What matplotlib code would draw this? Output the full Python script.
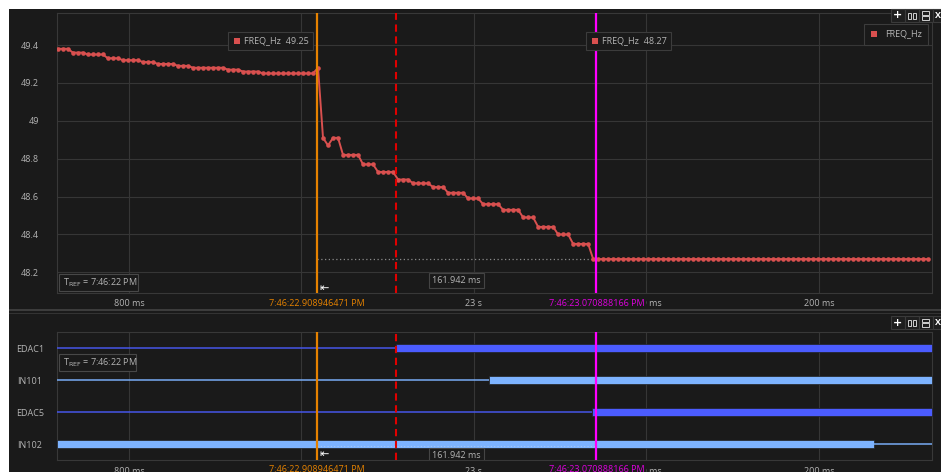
import numpy as np
import matplotlib
matplotlib.use('Agg')
import matplotlib.pyplot as plt
from matplotlib.patches import Rectangle

# ---- data ----
# frequency samples: seconds after 7:46:00 PM, held levels with sample counts
t_first = 22.7588
dt = 0.0029
freq_levels = [49.38, 49.36, 49.35, 49.33, 49.32, 49.31, 49.30, 49.29, 49.28, 49.27, 49.26, 49.25,
               49.28, 48.91, 48.87, 48.91, 48.82, 48.77, 48.73, 48.69, 48.67, 48.65, 48.62, 48.59,
               48.56, 48.53, 48.49, 48.44, 48.40, 48.35, 48.27]
freq_counts = [3, 3, 4, 3, 4, 3, 4, 3, 7, 3, 4, 11,
               1, 1, 1, 2, 4, 3, 4, 3, 4, 3, 4, 3, 4, 4, 3, 4, 3, 4, 68]

cursor_a = 22.908946471
cursor_b = 23.070888166
trigger = 22.9548
x_range = (22.7583, 23.2655)

x_ticks = [22.8, 22.9, 23.0, 23.1, 23.2]
# the 900 ms label sits fully under the orange cursor label
x_labels = ['800 ms', '', '23 s', '100 ms', '200 ms']
y_ticks = [48.2, 48.4, 48.6, 48.8, 49.0, 49.2, 49.4]
y_labels = ['48.2', '48.4', '48.6', '48.8', '49', '49.2', '49.4']

sig_names = ['EDAC1', 'IN101', 'EDAC5', 'IN102']
sig_start = [0, 0, 0, 1]
sig_edge = [22.9548, 23.0089, 23.0684, 23.2321]
sig_colors = ['#4b5cff', '#7db3ff', '#4b5cff', '#7db3ff']
sig_thin = ['#4656e8', '#78acf5', '#4656e8', '#78acf5']

freq = np.repeat(freq_levels, freq_counts)
t = t_first + dt * np.arange(len(freq))

# ---- style ----
W, H = 941, 472
BG = '#1a1a1a'
GRID = '#363636'
TXT = '#b4b4b4'
ORANGE = '#e68200'
MAGENTA = '#ff00ff'
RED = '#d9504f'
plt.rcParams['font.family'] = ['Open Sans', 'DejaVu Sans']
FS = 6.5

fig = plt.figure(figsize=(W / 100, H / 100), dpi=100, facecolor='white')


def fx(x):
    return x / W


def fy(y):
    return 1 - y / H


def fig_rect(x0, y0, x1, y1, **kw):
    fig.patches.append(Rectangle((fx(x0), fy(y1)), (x1 - x0) / W, (y1 - y0) / H,
                                 transform=fig.transFigure, **kw))


# dark window background
fig_rect(9, 9, W, H, facecolor=BG, edgecolor='none', zorder=-10)
# panel separator
fig_rect(9, 308.5, W, 311, facecolor='#3c3c3c', edgecolor='none')
fig_rect(9, 312.5, W, 313.5, facecolor='#333333', edgecolor='none')

ax1 = fig.add_axes([fx(57), fy(293), 875 / W, 280 / H])
ax2 = fig.add_axes([fx(57), fy(460), 875 / W, 128 / H])

for ax in (ax1, ax2):
    ax.set_facecolor(BG)
    ax.set_axisbelow(True)
    for s in ax.spines.values():
        s.set_color('#383838')
        s.set_linewidth(0.8)
    ax.set_xlim(*x_range)
    ax.set_xticks(x_ticks)
    ax.set_xticklabels(x_labels)
    ax.tick_params(length=0, colors=TXT, labelsize=FS)
    ax.grid(True, axis='x', color=GRID, lw=0.8)
    ax.axvline(cursor_a, color=ORANGE, lw=1.6, zorder=6)
    ax.axvline(cursor_b, color=MAGENTA, lw=1.6, zorder=6)
    ax.axvline(trigger, color='#e00000', lw=1.5, dashes=(3.5, 2.2), zorder=6)

# ---- top panel: frequency ----
ax1.set_ylim(48.091, 49.569)
ax1.set_yticks(y_ticks)
ax1.set_yticklabels(y_labels)
ax1.tick_params(axis='y', pad=13)
ax1.tick_params(axis='x', pad=4.5)
ax1.grid(True, axis='y', color=GRID, lw=0.8)
ax1.plot(t, freq, color=RED, lw=1.4, marker='o', ms=3.3, mew=0, zorder=4)
ax1.plot([cursor_a, cursor_b], [freq[-1], freq[-1]], color='#8a8a8a', lw=0.9,
         ls=(0, (1, 2)), zorder=3)
ax1.text((cursor_a + cursor_b) / 2, 48.157, '161.942 ms', color=TXT, fontsize=FS,
         ha='center', va='center', zorder=7,
         bbox=dict(boxstyle='square,pad=0.35', fc=BG, ec='#444444', lw=0.8))
ax1.text(cursor_a + 0.0015, 48.116, '\u21e4', color='white', fontsize=8,
         family='DejaVu Sans', ha='left', va='center', zorder=7)

# ---- bottom panel: digital channels ----
ax2.set_ylim(3.5, -0.5)
ax2.set_yticks(range(len(sig_names)))
ax2.set_yticklabels(sig_names, ha='center')
ax2.tick_params(axis='y', pad=19.5)
ax2.tick_params(axis='x', pad=5)
for i, name in enumerate(sig_names):
    pieces = [(x_range[0], sig_edge[i], sig_start[i]),
              (sig_edge[i], x_range[1], 1 - sig_start[i])]
    for a, b, state in pieces:
        if state:
            ax2.broken_barh([(a, b - a)], (i - 0.135, 0.27), facecolors=sig_colors[i],
                            edgecolors='#202020', linewidth=0.5, zorder=4)
        else:
            ax2.hlines(i, a, b, color=sig_thin[i], lw=1.1, zorder=4)
ax2.plot([cursor_a, cursor_b], [3.05, 3.05], color='#a8c8ee', lw=0.8,
         ls=(0, (1, 2)), zorder=5)
ax2.text((cursor_a + cursor_b) / 2, 3.35, '161.942 ms', color=TXT, fontsize=FS,
         ha='center', va='center', zorder=7, clip_on=True,
         bbox=dict(boxstyle='square,pad=0.35', fc=BG, ec='#444444', lw=0.8))
ax2.text(cursor_a + 0.0015, 3.3, '\u21e4', color='white', fontsize=8,
         family='DejaVu Sans', ha='left', va='center', zorder=7)

# ---- cursor time labels on the time axes ----
for ylab in (303, 469.5):
    fig.text(fx(317), fy(ylab), '7:46:22.908946471 PM', color=ORANGE, fontsize=FS,
             ha='center', va='center',
             bbox=dict(boxstyle='square,pad=0.15', fc=BG, ec='none'))
    fig.text(fx(597), fy(ylab), '7:46:23.070888166 PM', color='#e000e0', fontsize=FS,
             ha='center', va='center',
             bbox=dict(boxstyle='square,pad=0.15', fc=BG, ec='none'))

# ---- reference time boxes ----
for x0, y0, x1, y1 in [(59, 274, 138, 291), (59, 354, 136, 371)]:
    fig_rect(x0, y0, x1, y1, facecolor=BG, edgecolor='#484848', lw=0.8, zorder=8)
    fig.text(fx(x0 + 4), fy((y0 + y1) / 2), r'T$_{\mathrm{REF}}$ = 7:46:22 PM', color=TXT,
             fontsize=FS, ha='left', va='center', zorder=9)

# ---- value tooltips at the cursors ----
for x0, val in [(228, '49.25'), (586, '48.27')]:
    fig_rect(x0, 32, x0 + 85, 50, facecolor=BG, edgecolor='#3c3c3c', lw=0.8, zorder=8)
    fig_rect(x0 + 6, 38, x0 + 12, 44, facecolor=RED, edgecolor='none', zorder=9)
    fig.text(fx(x0 + 16), fy(41), 'FREQ_Hz  ' + val, color=TXT, fontsize=FS,
             ha='left', va='center', zorder=9)

# ---- legend ----
fig_rect(864, 24, 928, 45, facecolor=BG, edgecolor='#3c3c3c', lw=0.8, zorder=8)
fig_rect(871, 31, 877, 37, facecolor=RED, edgecolor='none', zorder=9)
fig.text(fx(885), fy(34), 'FREQ_Hz', color=TXT, fontsize=FS, ha='left', va='center', zorder=9)

# ---- small panel toolbars ----
for ty in (9, 316):
    for bx in (891, 905, 919, 933):
        fig_rect(bx, ty, bx + 13.5, ty + 13, facecolor='#1e1e1e', edgecolor='#3a3a3a',
                 lw=0.8, zorder=8)
    cy = ty + 6.5
    fig.text(fx(897.8), fy(cy), '+', color='white', fontsize=8, fontweight='bold',
             ha='center', va='center', zorder=9, family='DejaVu Sans')
    fig_rect(907.5, cy - 3, 911, cy + 3, facecolor='none', edgecolor='#d0d0d0', lw=0.7, zorder=9)
    fig_rect(912.5, cy - 3, 916, cy + 3, facecolor='none', edgecolor='#d0d0d0', lw=0.7, zorder=9)
    fig_rect(922, cy - 4, 929, cy - 0.5, facecolor='none', edgecolor='#d0d0d0', lw=0.7, zorder=9)
    fig_rect(922, cy + 0.5, 929, cy + 4, facecolor='none', edgecolor='#d0d0d0', lw=0.7, zorder=9)
    fig.text(fx(938), fy(cy), 'X', color='white', fontsize=6.5, fontweight='bold',
             ha='center', va='center', zorder=9)

fig.savefig('out.png', dpi=100, facecolor=fig.get_facecolor())
